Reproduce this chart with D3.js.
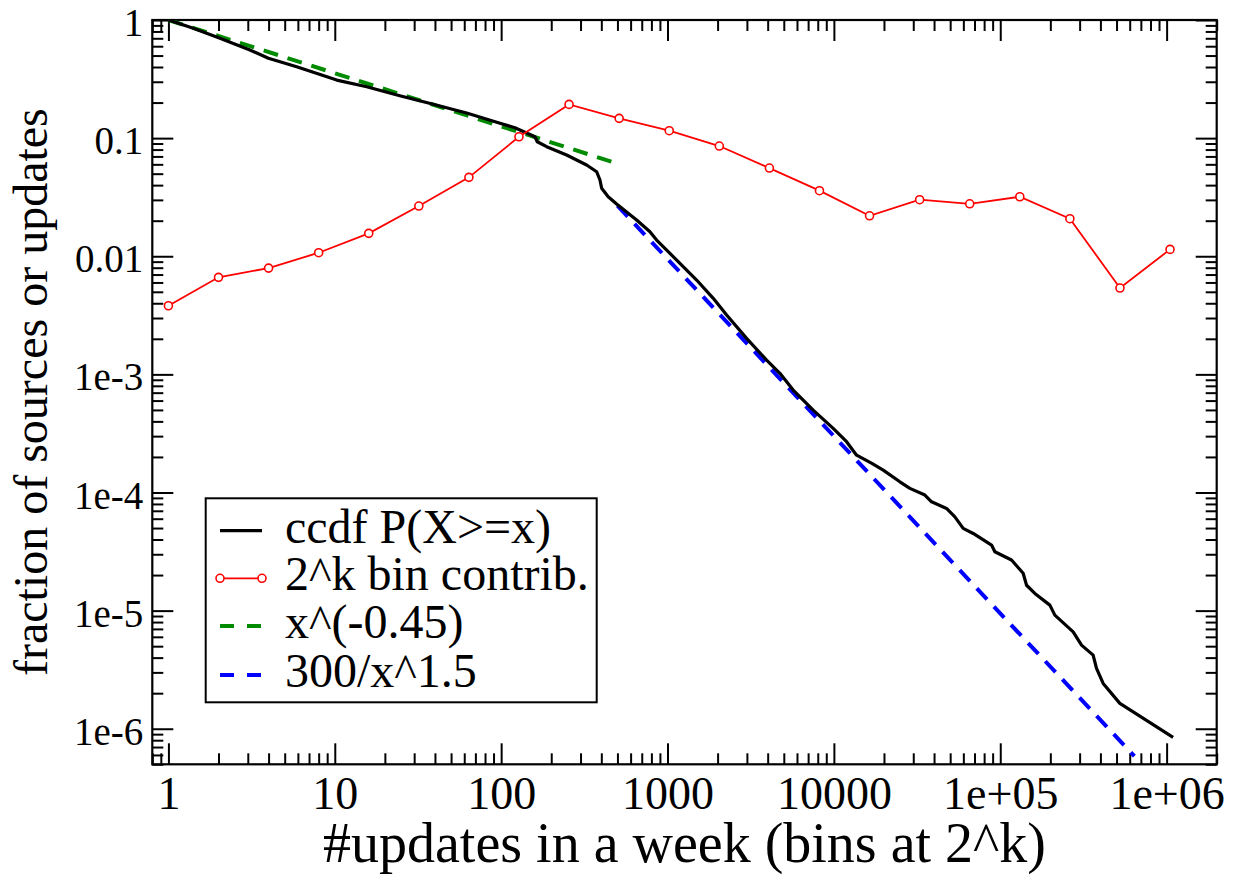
<!DOCTYPE html>
<html>
<head>
<meta charset="utf-8">
<title>ccdf of updates per week</title>
<script src="https://cdn.jsdelivr.net/npm/d3@7"></script>
<style>
    html, body { margin: 0; padding: 0; background: #fff; }
    svg, svg text { font-family: "Liberation Serif", "Times New Roman", serif; }
    svg { display: block; }
</style>
</head>
<body>
<div id="chart"></div>
<script>
// ccdf P(X>=x)
const ccdfX = [1, 1.411, 2.04, 3.09, 3.99, 5.9, 10.27, 15.55, 24.6, 39.1, 62, 98.4, 121, 139,
    159.6, 164.8, 187.7, 247.5, 326.4, 375, 392.6, 401.8, 440, 494.4, 652, 784, 860, 1034,
    1496, 1883, 2266, 2988, 3941, 4738, 5693, 7509, 9904, 11920, 13690, 16920, 19790, 24930,
    28630, 35230, 38650, 47560, 53360, 59870, 68760, 88660, 92800, 116900, 137300, 143900,
    161400, 198700, 212900, 274300, 308000, 361600, 379000, 415500, 523500, 1094000];
const ccdfY = [1, 0.851, 0.7, 0.557, 0.474, 0.402, 0.31, 0.272, 0.2286, 0.1933, 0.1632, 0.1335,
    0.1225, 0.112, 0.1027, 0.0932, 0.0846, 0.0719, 0.0592, 0.0519, 0.0442, 0.0376, 0.0319,
    0.02767, 0.02025, 0.0161, 0.01372, 0.01058, 0.00629, 0.0044, 0.003177, 0.002017, 0.001321,
    0.00102, 0.000736, 0.000498, 0.000349, 0.000269, 0.000207, 0.0001764, 0.0001548, 0.0001232,
    0.0001083, 0.0000951, 0.0000834, 0.0000733, 0.0000622, 0.0000497, 0.000045, 0.0000359,
    0.0000315, 0.0000268, 0.0000207, 0.0000164, 0.00001398, 0.00001113, 0.00000916, 0.00000661,
    0.0000051, 0.0000042, 0.00000324, 0.00000242, 0.00000164, 0.000000846];

// 2^k bin contributions
const binX = [1, 2, 4, 8, 16, 32, 64, 128, 256, 512, 1024, 2048, 4096, 8192, 16384, 32768,
    65536, 131072, 262144, 524288, 1048576];
const binY = [0.00381, 0.00663, 0.00794, 0.01071, 0.01563, 0.02661, 0.04656, 0.1027, 0.193,
    0.147, 0.1156, 0.0857, 0.0558, 0.0359, 0.022, 0.0301, 0.0278, 0.0319, 0.0208, 0.00538, 0.01143];

// fitted power laws (end points)
const fitLowX = [1, 500];
const fitLowY = [1, 0.0609];
const fitHighX = [500, 640000];
const fitHighY = [0.02683, 0.000000586];

// axes
const xTickValues = [1, 10, 100, 1000, 10000, 100000, 1000000];
const xTickLabels = ['1', '10', '100', '1000', '10000', '1e+05', '1e+06'];
const yTickValues = [1, 0.1, 0.01, 0.001, 0.0001, 0.00001, 0.000001];
const yTickLabels = ['1', '0.1', '0.01', '1e-3', '1e-4', '1e-5', '1e-6'];
const xDomain = [0.8, 2000000];
const yDomain = [0.0000005, 1];

const xTitle = '#updates in a week (bins at 2^k)';
const yTitle = 'fraction of sources or updates';
const legendLabels = ['ccdf P(X>=x)', '2^k bin contrib.', 'x^(-0.45)', '300/x^1.5'];

/**
 * Log-log ccdf chart
 */
class CcdfChart {
    constructor(container) {
        this.container = container;
        this.width = 1241;
        this.height = 878;
        this.frame = { left: 152.3, top: 20, right: 1216.7, bottom: 764.3 };
    }

    init() {
        const f = this.frame;

        this.svg = d3.select(this.container)
            .append('svg')
            .attr('width', this.width)
            .attr('height', this.height);

        this.x = d3.scaleLog().domain(xDomain).range([f.left, f.right]);
        this.y = d3.scaleLog().domain(yDomain).range([f.bottom, f.top]);

        this.drawAxes();
        this.drawSeries();
        this.drawLegend();
    }

    /**
     * Minor tick values (2..9 per decade) inside a domain
     */
    minorTicks(domain) {
        const out = [];
        const lo = Math.floor(Math.log10(domain[0]));
        const hi = Math.ceil(Math.log10(domain[1]));
        for (let e = lo; e <= hi; e++) {
            for (let m = 2; m <= 9; m++) {
                const v = m * Math.pow(10, e);
                if (v >= domain[0] * 0.999 && v <= domain[1] * 1.001) out.push(v);
            }
        }
        return out;
    }

    drawAxes() {
        const f = this.frame;
        const svg = this.svg;
        const majorLen = 21;
        const minorLen = 11;

        const styleTicks = g => {
            g.attr('font-family', null).attr('font-size', null);
            g.select('.domain').remove();
            g.selectAll('line').attr('stroke', '#000').attr('stroke-width', 2);
        };

        // bottom axis with labels
        const bottom = svg.append('g')
            .attr('transform', `translate(0,${f.bottom})`)
            .call(d3.axisBottom(this.x)
                .tickValues(xTickValues)
                .tickFormat((d, i) => xTickLabels[i])
                .tickSizeInner(-majorLen)
                .tickSizeOuter(0)
                .tickPadding(12))
            .call(styleTicks);
        bottom.selectAll('text')
            .attr('fill', '#000')
            .attr('dy', '0.71em')
            .style('font-size', '46px');

        svg.append('g')
            .attr('transform', `translate(0,${f.bottom})`)
            .call(d3.axisBottom(this.x).tickValues(this.minorTicks(xDomain))
                .tickFormat('').tickSizeInner(-minorLen).tickSizeOuter(0))
            .call(styleTicks);

        // top mirror
        svg.append('g')
            .attr('transform', `translate(0,${f.top})`)
            .call(d3.axisTop(this.x).tickValues(xTickValues)
                .tickFormat('').tickSizeInner(-majorLen).tickSizeOuter(0))
            .call(styleTicks);
        svg.append('g')
            .attr('transform', `translate(0,${f.top})`)
            .call(d3.axisTop(this.x).tickValues(this.minorTicks(xDomain))
                .tickFormat('').tickSizeInner(-minorLen).tickSizeOuter(0))
            .call(styleTicks);

        // left axis with labels
        const left = svg.append('g')
            .attr('transform', `translate(${f.left},0)`)
            .call(d3.axisLeft(this.y)
                .tickValues(yTickValues)
                .tickFormat((d, i) => yTickLabels[i])
                .tickSizeInner(-majorLen)
                .tickSizeOuter(0)
                .tickPadding(9))
            .call(styleTicks);
        left.selectAll('text')
            .attr('fill', '#000')
            .attr('dy', '0.4em')
            .style('font-size', '39px');

        svg.append('g')
            .attr('transform', `translate(${f.left},0)`)
            .call(d3.axisLeft(this.y).tickValues(this.minorTicks(yDomain))
                .tickFormat('').tickSizeInner(-minorLen).tickSizeOuter(0))
            .call(styleTicks);

        // right mirror
        svg.append('g')
            .attr('transform', `translate(${f.right},0)`)
            .call(d3.axisRight(this.y).tickValues(yTickValues)
                .tickFormat('').tickSizeInner(-majorLen).tickSizeOuter(0))
            .call(styleTicks);
        svg.append('g')
            .attr('transform', `translate(${f.right},0)`)
            .call(d3.axisRight(this.y).tickValues(this.minorTicks(yDomain))
                .tickFormat('').tickSizeInner(-minorLen).tickSizeOuter(0))
            .call(styleTicks);

        // frame
        svg.append('rect')
            .attr('x', f.left)
            .attr('y', f.top)
            .attr('width', f.right - f.left)
            .attr('height', f.bottom - f.top)
            .attr('fill', 'none')
            .attr('stroke', '#000')
            .attr('stroke-width', 2.2);

        // axis titles
        svg.append('text')
            .attr('x', (f.left + f.right) / 2)
            .attr('y', 862)
            .attr('text-anchor', 'middle')
            .style('font-size', '56px')
            .text(xTitle);

        svg.append('text')
            .attr('transform', `translate(47,${(f.top + f.bottom) / 2}) rotate(-90)`)
            .attr('text-anchor', 'middle')
            .style('font-size', '48px')
            .text(yTitle);
    }

    drawSeries() {
        const f = this.frame;
        const svg = this.svg;

        svg.append('clipPath')
            .attr('id', 'plot-clip')
            .append('rect')
            .attr('x', f.left)
            .attr('y', f.top)
            .attr('width', f.right - f.left)
            .attr('height', f.bottom - f.top);

        const plot = svg.append('g').attr('clip-path', 'url(#plot-clip)');

        const line = d3.line()
            .x(d => this.x(d[0]))
            .y(d => this.y(d[1]));

        // green fit
        plot.append('path')
            .datum(d3.zip(fitLowX, fitLowY))
            .attr('d', line)
            .attr('fill', 'none')
            .attr('stroke', '#008b00')
            .attr('stroke-width', 4)
            .attr('stroke-dasharray', '15,10');

        // blue fit
        plot.append('path')
            .datum(d3.zip(fitHighX, fitHighY))
            .attr('d', line)
            .attr('fill', 'none')
            .attr('stroke', '#0000ff')
            .attr('stroke-width', 4)
            .attr('stroke-dasharray', '15,10');

        // ccdf
        plot.append('path')
            .datum(d3.zip(ccdfX, ccdfY))
            .attr('d', line)
            .attr('fill', 'none')
            .attr('stroke', '#000')
            .attr('stroke-width', 3.2)
            .attr('stroke-linejoin', 'round');

        // bin contributions
        const bins = d3.zip(binX, binY);
        plot.append('path')
            .datum(bins)
            .attr('d', line)
            .attr('fill', 'none')
            .attr('stroke', '#ff0000')
            .attr('stroke-width', 1.8);

        plot.append('g')
            .selectAll('circle')
            .data(bins)
            .enter()
            .append('circle')
            .attr('cx', d => this.x(d[0]))
            .attr('cy', d => this.y(d[1]))
            .attr('r', 4)
            .attr('fill', '#fff')
            .attr('stroke', '#ff0000')
            .attr('stroke-width', 1.6);
    }

    drawLegend() {
        const svg = this.svg;
        const box = { x: 205.7, y: 498.3, w: 391, h: 204 };
        const rowY = [530.7, 578.3, 626, 675];
        const x0 = 220, x1 = 262;

        svg.append('rect')
            .attr('x', box.x)
            .attr('y', box.y)
            .attr('width', box.w)
            .attr('height', box.h)
            .attr('fill', '#fff')
            .attr('stroke', '#000')
            .attr('stroke-width', 2);

        const g = svg.append('g');

        // samples
        g.append('line').attr('x1', x0).attr('x2', x1).attr('y1', rowY[0]).attr('y2', rowY[0])
            .attr('stroke', '#000').attr('stroke-width', 3.2);

        g.append('line').attr('x1', x0).attr('x2', x1).attr('y1', rowY[1]).attr('y2', rowY[1])
            .attr('stroke', '#ff0000').attr('stroke-width', 1.8);
        [x0, x1].forEach(cx => {
            g.append('circle').attr('cx', cx).attr('cy', rowY[1]).attr('r', 4)
                .attr('fill', '#fff').attr('stroke', '#ff0000').attr('stroke-width', 1.6);
        });

        g.append('line').attr('x1', x0).attr('x2', x1).attr('y1', rowY[2]).attr('y2', rowY[2])
            .attr('stroke', '#008b00').attr('stroke-width', 4).attr('stroke-dasharray', '14,13');

        g.append('line').attr('x1', x0).attr('x2', x1).attr('y1', rowY[3]).attr('y2', rowY[3])
            .attr('stroke', '#0000ff').attr('stroke-width', 4).attr('stroke-dasharray', '14,13');

        // labels
        g.selectAll('text.legend-label')
            .data(legendLabels)
            .enter()
            .append('text')
            .attr('class', 'legend-label')
            .attr('x', 285)
            .attr('y', (d, i) => rowY[i] + 12)
            .style('font-size', '48px')
            .text(d => d);
    }
}

const chart = new CcdfChart(document.getElementById('chart'));
chart.init();
</script>
</body>
</html>
